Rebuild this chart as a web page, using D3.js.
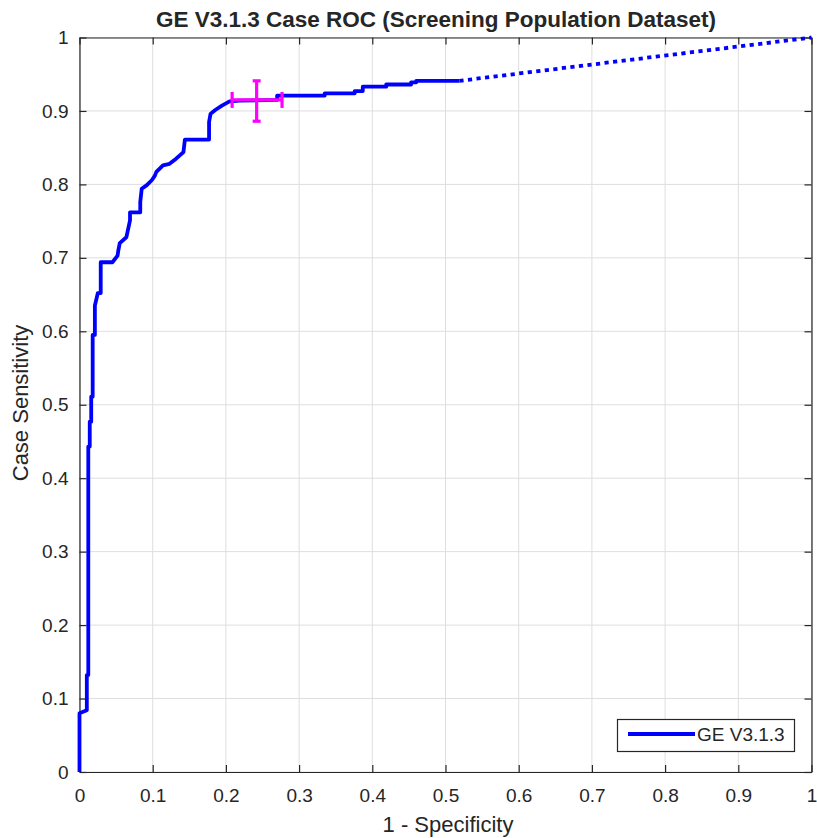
<!DOCTYPE html>
<html><head><meta charset="utf-8">
<script src="https://cdn.jsdelivr.net/npm/d3@7"></script>
<style>body{margin:0;background:#fff}svg{display:block}text{font-family:"Liberation Sans",Arial,sans-serif;fill:#262626}</style>
</head><body><svg id="c" width="817" height="838"></svg>
<script>
// ROC staircase: false positive rate (1 - specificity) and sensitivity
const rocFpr = [0,0,0.010,0.010,0.012,0.012,0.014,0.014,0.016,0.016,0.018,0.018,0.021,0.021,0.025,0.029,0.029,0.045,0.052,0.053,0.055,0.064,0.069,0.069,0.083,0.083,0.085,0.092,0.099,0.103,0.105,0.114,0.123,0.132,0.142,0.144,0.177,0.177,0.179,0.185,0.194,0.205,0.219,0.270,0.270,0.335,0.335,0.376,0.376,0.387,0.387,0.419,0.419,0.453,0.453,0.460,0.460,0.519];
const rocTpr = [0,0.080,0.084,0.132,0.132,0.443,0.443,0.477,0.477,0.511,0.511,0.595,0.595,0.635,0.652,0.652,0.694,0.694,0.703,0.710,0.720,0.728,0.751,0.762,0.762,0.776,0.794,0.799,0.806,0.812,0.817,0.826,0.828,0.835,0.844,0.861,0.861,0.885,0.896,0.901,0.907,0.913,0.914,0.915,0.921,0.921,0.924,0.924,0.927,0.927,0.933,0.933,0.936,0.936,0.939,0.939,0.941,0.941];
// extrapolated segment (dotted)
const extFpr = [0.519, 1];
const extTpr = [0.941, 1];
// operating point with error bars
const opPoint = {x: 0.242, y: 0.915, xLo: 0.2085, xHi: 0.2767, yLo: 0.886, yHi: 0.941};
const ticks = [0,0.1,0.2,0.3,0.4,0.5,0.6,0.7,0.8,0.9,1];
const tickLabels = ["0","0.1","0.2","0.3","0.4","0.5","0.6","0.7","0.8","0.9","1"];
const titleText = "GE V3.1.3 Case ROC (Screening Population Dataset)";
const xLabel = "1 - Specificity";
const yLabel = "Case Sensitivity";
const legendLabel = "GE V3.1.3";

const svg = d3.select("#c");
const L = 79.5, R = 811.5, T = 37.5, B = 772;
const x = d3.scaleLinear().domain([0,1]).range([L,R]);
const y = d3.scaleLinear().domain([0,1]).range([B,T]);
const axisCol = "#262626";

// grid
svg.append("g").selectAll("line").data(ticks).join("line").attr("x1",d=>x(d)).attr("x2",d=>x(d)).attr("y1",T).attr("y2",B).attr("stroke","#dedede").attr("stroke-width",1);
svg.append("g").selectAll("line").data(ticks).join("line").attr("y1",d=>y(d)).attr("y2",d=>y(d)).attr("x1",L).attr("x2",R).attr("stroke","#dedede").attr("stroke-width",1);

// axes (box with inward ticks)
const fmt = (d,i)=>tickLabels[i];
const ax = (gen, tr) => svg.append("g").attr("transform",tr).call(gen);
const axB = ax(d3.axisBottom(x).tickValues(ticks).tickFormat(fmt).tickSizeInner(-7).tickSizeOuter(0).tickPadding(17), `translate(0,${B})`);
const axL = ax(d3.axisLeft(y).tickValues(ticks).tickFormat(fmt).tickSizeInner(-7).tickSizeOuter(0).tickPadding(11), `translate(${L},0)`);
const axT = ax(d3.axisTop(x).tickValues(ticks).tickFormat("").tickSizeInner(-7).tickSizeOuter(0), `translate(0,${T})`);
const axR = ax(d3.axisRight(y).tickValues(ticks).tickFormat("").tickSizeInner(-7).tickSizeOuter(0), `translate(${R},0)`);
[axB,axL,axT,axR].forEach(a=>{
  a.select(".domain").attr("stroke",axisCol).attr("stroke-width",1.2);
  a.selectAll(".tick line").attr("stroke",axisCol).attr("stroke-width",1.2);
  a.selectAll(".tick text").attr("font-size",19).attr("fill",axisCol).attr("font-family","Liberation Sans, Arial, sans-serif");
});

// curves
const line = d3.line().x(d=>x(d[0])).y(d=>y(d[1]));
const roc = rocFpr.map((v,i)=>[v,rocTpr[i]]);
const ext = extFpr.map((v,i)=>[v,extTpr[i]]);
svg.append("path").attr("d",line(ext)).attr("fill","none").attr("stroke","#0000ff").attr("stroke-width",3.8).attr("stroke-dasharray","4.2,4.4");
svg.append("path").attr("d",line(roc)).attr("fill","none").attr("stroke","#0000ff").attr("stroke-width",3.8).attr("stroke-linejoin","round");

// operating point error bars
const mg = svg.append("g").attr("stroke","#ff00ff").attr("stroke-width",3.2).attr("fill","none");
mg.append("line").attr("x1",x(opPoint.xLo)).attr("x2",x(opPoint.xHi)).attr("y1",y(opPoint.y)).attr("y2",y(opPoint.y));
mg.append("line").attr("y1",y(opPoint.yLo)).attr("y2",y(opPoint.yHi)).attr("x1",x(opPoint.x)).attr("x2",x(opPoint.x));
[opPoint.xLo,opPoint.xHi].forEach(v=>mg.append("line").attr("x1",x(v)).attr("x2",x(v)).attr("y1",y(opPoint.y)-8).attr("y2",y(opPoint.y)+8));
[opPoint.yLo,opPoint.yHi].forEach(v=>mg.append("line").attr("y1",y(v)).attr("y2",y(v)).attr("x1",x(opPoint.x)-4).attr("x2",x(opPoint.x)+4));

// legend
const lg = svg.append("g");
lg.append("rect").attr("x",617.5).attr("y",719.5).attr("width",177).attr("height",32).attr("fill","#fff").attr("stroke",axisCol).attr("stroke-width",1.2);
lg.append("line").attr("x1",628).attr("x2",695).attr("y1",734).attr("y2",734).attr("stroke","#0000ff").attr("stroke-width",3.8);
lg.append("text").attr("x",697).attr("y",741).attr("font-size",19).text(legendLabel);

// titles
svg.append("text").attr("x",436).attr("y",27).attr("text-anchor","middle").attr("font-size",22.5).attr("font-weight","bold").attr("fill","#000").text(titleText);
svg.append("text").attr("x",448).attr("y",832).attr("text-anchor","middle").attr("font-size",22).text(xLabel);
svg.append("text").attr("transform",`translate(28,403) rotate(-90)`).attr("text-anchor","middle").attr("font-size",22).text(yLabel);
</script></body></html>
